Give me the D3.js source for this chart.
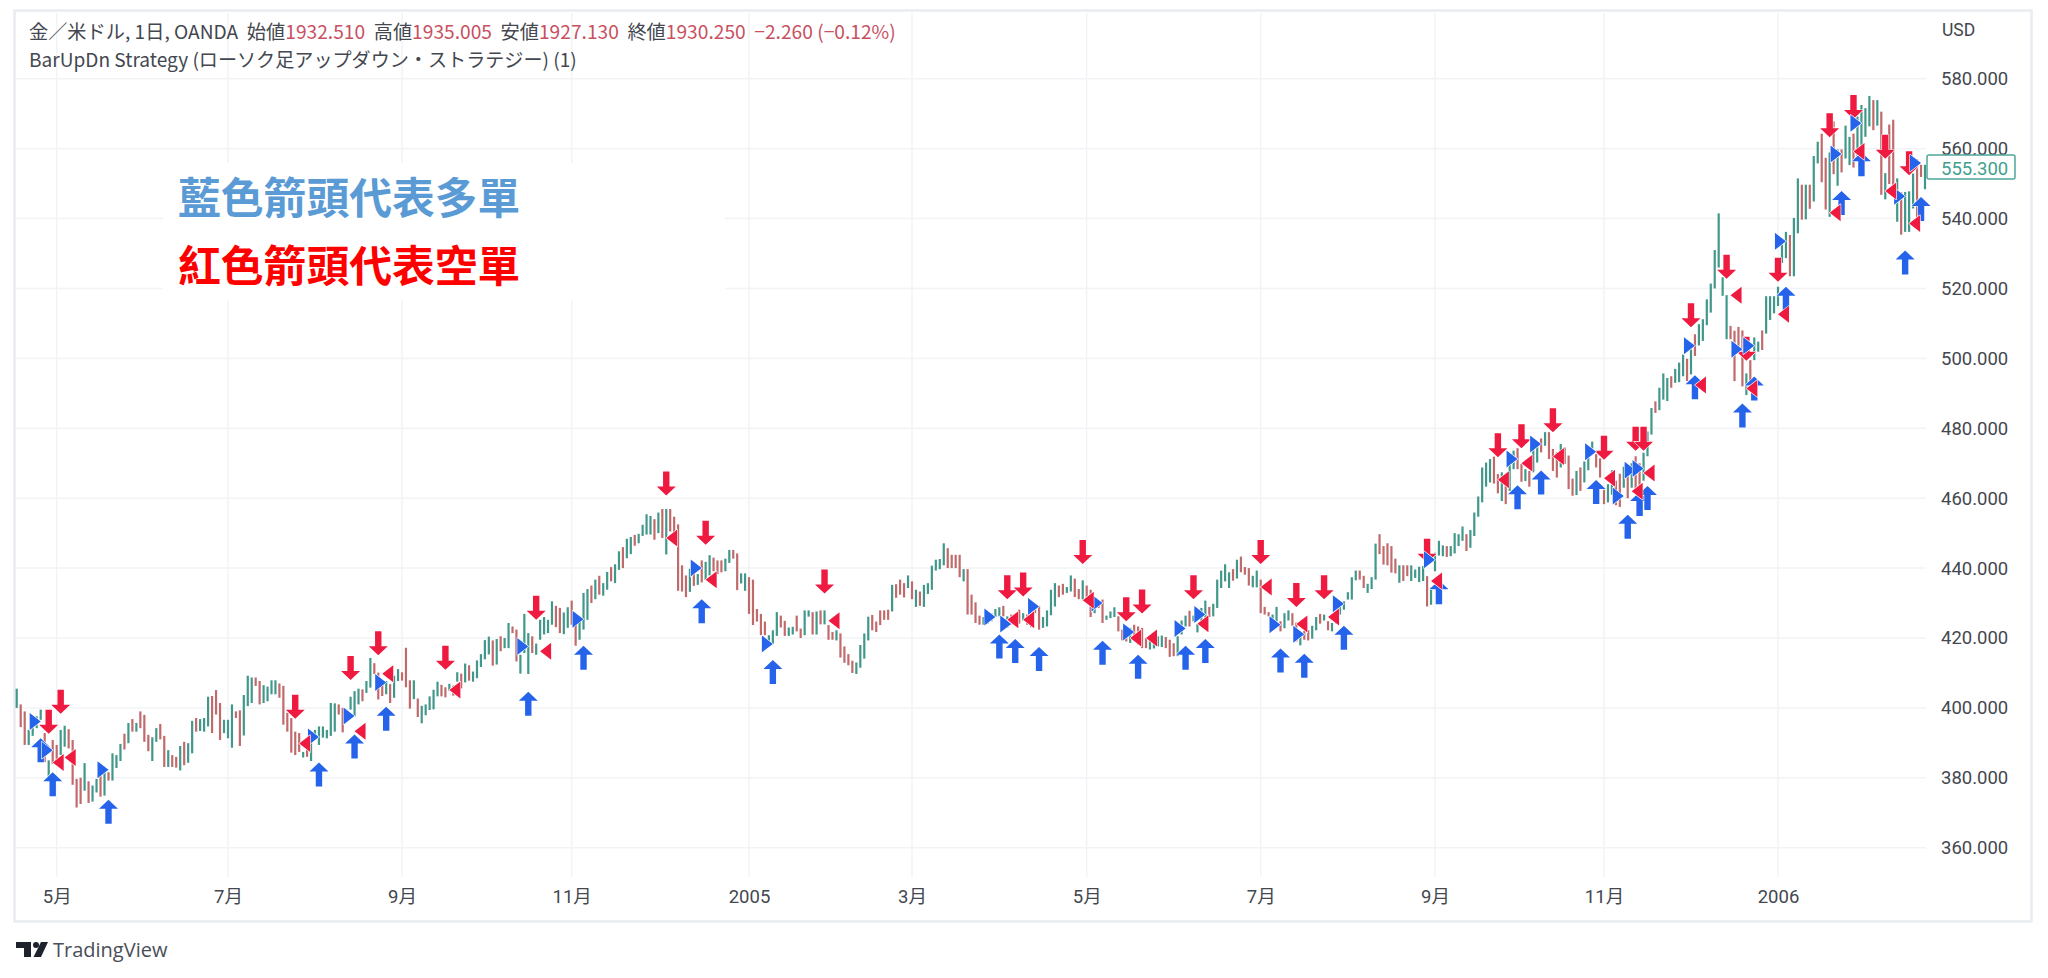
<!DOCTYPE html>
<html><head><meta charset="utf-8">
<style>html,body{margin:0;padding:0;background:#fff;overflow:hidden}svg{display:block}</style>
<script src="https://d3js.org/d3.v7.min.js"></script></head><body>
<svg id="c" width="2048" height="978"></svg>
<script>
// ---- series: one entry per daily bar, grouped by the month span between time-axis ticks ----
const highs = [
405.5,401,399,393.7,394.5,397.6,399.5,392.8,385,390.8,
389.4,393.7,394.9,393.9,390.8,379.7,380,384.2,379,377.8,379.7,380.7,381.6,381.6,387,386.5,389.7,392.6,395.7,396.8,395.7,399,398,392.3,391.6,394.2,395.4,392,387.9,386.5,386,389.1,390.3,389.9,396.3,397.1,396.8,397.1,403.2,403.4,405.1,401.4,396.6,
396.6,401,399,399.3,403.7,409.2,408.7,408.7,407.7,406.5,406.1,407.9,407.9,407,406.3,398.6,397.1,393.2,392.8,387.4,389.9,390.8,393.7,394.7,394.7,393.7,401.4,401.3,401,400,399.5,403.2,404.8,405.5,405.3,407.7,414.3,412.8,410.1,407.2,407.7,406.8,409.2,411.1,
410.2,417.2,407.9,407.9,402.7,400.6,401,403.3,405.2,407.5,406.6,405.9,406.9,406.4,410.2,409.8,412.7,412.2,410.4,413.6,415.4,419.4,420.4,419.3,419.7,420.5,420,424.3,423.3,422.4,415.2,426.9,421.4,420.5,418.4,425.2,426,425.2,430.5,429.2,428.6,427.3,428.8,
430.7,425.2,425.2,432.9,434,435,436.7,437.8,435.7,438.9,440.3,441.1,444.8,446,448.4,448.9,449.5,449.8,452.4,455.4,454.9,454,455.9,456.9,456.9,456.9,454.7,452.5,440.8,437.9,439.8,441.8,438.3,442.2,441.8,443.7,443,442.2,442.2,442.7,445.2,445.2,444.2,438.5,438.5,
437.4,436.7,428.3,426.9,424.7,420.8,422.2,427.4,426.4,424.9,423,423.2,426.4,422.7,427.9,427.9,427.4,427.6,427.9,427.9,423.7,421.7,422.2,421.3,417.6,415.4,413.5,413,418,421.3,426.1,426.6,424.7,427.9,427.9,428.1,435.2,435.4,436.7,435.7,437.9,
436.2,433.8,433.3,435.2,435.7,440.7,442.4,442.6,447.1,445.7,443.8,443.8,443.8,439.7,439.7,432.4,430.2,426.4,426,426.7,427.1,428.3,428.8,429.2,426.2,426.7,426.2,428.1,427.1,426.7,427.6,430,429.2,426,427.9,433.8,435.7,435,435.5,434.6,437.9,437,434,436.5,
435,433.8,431.4,430.5,431,426.4,427.6,428.8,426.2,422.4,422.9,422.9,423.8,423.3,422.9,420,419.5,420,420.5,420.7,420.3,419.5,418.5,420.5,425,426.4,427.8,426.4,424,428.6,430.7,428.9,429.8,436.7,439.3,441.1,438.8,439.7,442.4,443.3,440.3,440,437.8,439.3,
436.7,428.9,427.4,426.7,428.9,424.8,427.1,427.9,427.1,424.4,421,422,422.2,423.5,426,426.9,426.7,424.8,424.3,427.6,430.5,430.5,433.1,437.4,439.3,439.3,437.8,435.5,437.4,447,449.7,446.3,447.1,446.3,442.7,440.8,440.8,440.8,440.8,439.6,440.4,440.6,437.7,434.4,
444.4,447.8,446.5,446.3,446.3,450,449.7,451.9,449.7,450.9,455.9,460.5,468.8,470.2,471.2,471.9,466.9,467.4,465.5,471.2,473.6,474.3,469.8,468.3,467.8,474.1,476,477.1,478.9,478.9,474.1,473.1,475.5,474.5,472.2,465.6,467.8,468.8,470.5,472,476.2,472.6,471.4,
462.6,464,468,465,467,469,467,470,472,470,473,479.1,485.8,487.7,491.6,495.7,494.4,494.9,497,498.8,501.1,499.9,502.6,506.9,509.8,511.2,516.9,521.4,531,541.5,523.2,518.1,509.3,507.9,509,508,495.7,499.5,506,504.8,508,517.8,517.8,517.8,
520.5,533.4,536.2,535.3,540.2,551.5,549.7,549.7,549.7,557.9,562,564.3,557.4,558.9,567.8,559.8,559.8,566.6,563.4,564.3,569.2,572.5,571.6,575.1,573.9,573.9,570.6,553,566.9,568.3,551.5,547.6,547.6,547.8,552.9,557,555.4,555.4
];
const lows = [
400,394.5,389.4,389.4,392,394.2,396.6,384.5,380.2,384,
384.5,386.5,388.9,388.4,378,371.5,372.5,376.3,372.8,373.2,375.8,374.6,374.9,379.2,379.2,382.8,384.8,388.1,389.9,393.2,393.2,394.2,390.3,387.6,384.8,390.3,391,383.1,383.1,383.1,382.9,382.1,383.6,384.3,387,393.2,393.4,393.2,394.7,392.8,398.1,390.8,392.8,
391.3,388.6,397.1,389.1,392.1,400.5,401.4,406.3,401,401.4,401.9,403.9,403.9,402.9,395.2,393.2,387.2,386.5,387.4,385.8,386,384.8,390.8,389.4,391.5,391.3,392,393.2,398.1,393,396.1,399.5,397.6,401,401.9,404.3,405.8,409.7,402.4,403.4,403.9,401.4,402.9,407.7,
407.8,405.9,399.8,402.5,397.4,395.6,397.9,399.4,399.6,403.3,403.3,403,404.9,403.5,407.5,405.6,407.3,407.8,407.5,408.5,411.7,413.9,415.3,412.1,412.4,416.2,417.1,417.1,421.4,413.3,409.8,415.7,409.7,415.7,415.2,419.5,421,421.4,423.8,423.1,421.4,421.1,422.9,
423.8,417.8,419.5,422.4,425.2,430,431.1,432.4,432.1,433.8,436.2,435.7,439.5,440,442.8,444,446.4,447.1,449.2,449.6,449.6,448.1,450,448.6,443.9,450.5,449.1,433.5,433.3,431.7,433.2,434.9,435.2,435.9,436.6,437.9,439.1,438.3,438.8,439.1,441.5,442.7,433.7,435.6,433.5,
426.9,423.7,424.7,420.8,420.8,417.8,418.3,420.6,423,420.6,420.6,421,421.9,420,420.8,426.1,421,421,423.9,423.9,419.5,419.5,419.3,414.4,412.9,412.2,410,409.7,411.5,414.1,419.3,422.2,421.7,423.7,425.2,425.2,427.6,431.5,432.4,431.6,434.3,
431.1,428.9,429.2,428.9,432.6,433.8,439.3,439.7,440.8,440,440,440,437.4,436.2,426.7,426.7,424.3,423.8,423.8,424,424.8,426,426.2,426.2,422.9,423.8,424.3,424.1,425,423.8,423.1,427.1,422.4,422.9,423.3,426.5,429,431.7,432.4,432.9,433.3,431.7,431.1,431,
430,426,427.1,428.6,424.3,425.2,425.7,426,421.9,419.3,419,418.6,419.5,418.1,417.1,417.1,416.7,417,417.6,417.4,417.1,414.6,414.8,414.8,421,423.3,423.3,424.8,421.6,424.3,425.7,426,426.2,428.6,434.3,436.2,434.3,436.4,437,438.8,438.1,435,434.5,434.5,
427.1,426.7,426.2,424.3,424.8,421.9,422.8,425,423.5,419,417.9,419.5,419.3,419.8,422.2,424.1,425,422.2,421.9,424.1,426.7,428.1,431,431,436.5,436.7,434.3,432.9,434,436.7,444,441,440.8,438.7,438.5,435.8,436.3,437.7,436.3,437.2,436,436.3,429,429.5,
439.1,443.6,443.4,443.2,443.4,444.2,446.3,447.8,444.9,445.8,449.2,454.7,458.8,463.3,464.5,464.2,461.4,459.2,458.3,462.1,468.3,468.3,464.7,464.9,463.3,467.4,470.2,473.1,475,471.2,467.8,465.9,468.8,469.8,462.6,460.7,460.9,462.1,464.5,468,472.6,468.8,465.9,
458.3,458.8,461,458,457.5,463,460,463,462,460,465,472,478.2,484.4,485.2,488.2,487.8,491.6,493,493.2,494.9,493.5,495.4,500.7,503.7,505,509.5,513.1,520,526,517.9,505.5,505.5,493.5,503.3,492,489.5,491.4,499.5,501.9,502.4,507.1,511,512.9,
515,527.3,528.7,523.5,523.5,535.8,539.7,539.8,542.8,544.9,555.8,550.4,542.6,540.5,552.7,549.4,553.2,557.2,555.3,554.6,557.9,559.8,563.4,566.4,565.3,566.6,546.8,545.5,549.9,548,539.1,535.4,536.2,536.2,542.9,538,551.9,548.4
];
const barDirections = (
"GRRGGGGRGR"+
"RGGRRRRGRGGRGRGGGRGRGRRRGGRRGRRGRGGRGGGRRRG"+
"GGRRGGGRRGGGGRRRRRRGRGGGGGGGRRGGGGRGGRRRGRGG"+
"RRRGRGGGGGRRGRGRGRGGGGGRGRGGRRGGGRGGGGGRRGG"+
"RRGGGRGRGGRGGRGGRGGGGRGRGRRRRRGRGRGGRRRGGRRGG"+
"RRRRRGGGRRGGRRGGRGRGRRGRRRRGGGGRRRRRGRRRG"+
"RGRGGGGGGRRRRGRRRRGGGGGRGRRRGRRRRGGGGRRGGRRG"+
"RRGRRGGGRRRGRRRRGGGGRRRGGGRGGGGRGGGGGRGRRRGG"+
"RRRGGRGGRRGRRGGRGRGGGGGGGRRGGGRRRRRGRRGGGGRG".slice(0,44)+
"GGGRGGGGRGGGGGGRRGRGGRRGRGGRGRRRGRRRGRGGGRR"+
"RGGRRGRGRRGGGRGGGRGGGRGRGGGGGGGGRRRRGRGGRGGGR".slice(0,44)+
"GGGRGGRGRGGRRGRGRGGRGGGGRGRGRRGRGGGRRG"
).split("");
const timeTickLabels = ["5月","7月","9月","11月","2005","3月","5月","7月","9月","11月","2006"];
const timeTickBars   = [10,53,97,140,185,226,270,314,358,401,445];
const priceTicks = d3.range(360, 581, 20);
const lastPrice = 555.3;
const headerSymbol = "金／米ドル, 1日, OANDA";
const headerOhlc = [["始値","1932.510"],["高値","1935.005"],["安値","1927.130"],["終値","1930.250"]];
const headerChange = "−2.260 (−0.12%)";
const strategyName = "BarUpDn Strategy (ローソク足アップダウン・ストラテジー) (1)";
const noteLong = "藍色箭頭代表多單";
const noteShort = "紅色箭頭代表空單";
// ---- signals: [bar index, price] ----
const shortArrows = [[11,398.3],[8,392.6],[70,396.9],[84,408],[91,415.1],[108,410.9],[131,425.2],[164,460.8],[174,446.7],[204,432.7],[250,431.1],[254,431.9],[269,441.2],[280,424.8],[284,427],[297,431.1],[314,441.2],[323,428.9],[330,431.1],[356,441.5],[374,471.7],[380,474.3],[388,478.9],[401,471],[409,473.6],[411,473.6],[423,508.9],[432,522.8],[437,499.3],[445,521.9],[458,563.3],[464,568.5],[472,557.1],[478,552.4]];
const longArrows = [[6,391.3],[9,381.6],[23,373.7],[76,384.4],[85,392.4],[93,400.3],[129,404.6],[143,417.8],[173,431.1],[191,413.7],[248,421],[252,419.7],[258,417.4],[274,419.2],[283,415.2],[295,417.8],[300,419.7],[319,417],[325,415.5],[335,423.5],[359,436.5],[379,463.7],[385,467.9],[399,465.2],[407,455.3],[410,461.8],[412,463.5],[424,495.2],[436,487.1],[439,494.8],[447,520.5],[461,547.9],[466,559],[477,530.9],[481,546.2]];
const longEntries = [[6,396.1],[9,387.9],[23,382.3],[76,391.7],[85,397.7],[93,407.3],[129,417.6],[143,425.4],[173,440],[191,418.3],[247,426],[251,424],[258,429],[274,430],[282,421.7],[295,422.7],[300,426.7],[319,423.8],[325,421.1],[335,429.8],[358,442.4],[379,471.2],[385,475.5],[399,473.3],[406,460.6],[409,468],[411,468.5],[424,503.6],[436,502.6],[439,503.6],[447,533.5],[461,558.5],[466,567.3],[477,546.4],[481,555.9]];
const shortEntries = [[9,384.4],[12,385.8],[71,389.8],[85,393.3],[92,409.8],[109,405.1],[132,416.2],[164,448.6],[174,436.7],[205,424.9],[250,425.2],[254,425.2],[269,430.8],[281,420],[285,420],[298,424.1],[314,434.6],[323,424],[331,426],[357,436.3],[374,465.3],[380,470],[388,471.9],[401,465.7],[408,462],[411,467.2],[424,492.4],[433,518.1],[437,491.4],[445,512.6],[458,541.7],[464,559.2],[472,547.9],[478,538.6]];

// ---- scales ----
const xDomain = [0,...timeTickBars,highs.length-1];
const xRange  = [16.7,56.7,228,402,571.7,749,912,1086.7,1260.7,1435,1604,1778,1925];
const x = d3.scaleLinear().domain(xDomain).range(xRange);
const y = d3.scaleLinear().domain([360,580]).range([847.7,78.8]);
const svg = d3.select("#c");
const sans = "'Noto Sans CJK JP','Roboto',sans-serif";
const colG="#41988a", colR="#c06a6c", RED="#ee1a40", BLUE="#2563eb", GRID="#f2f3f6", FRAME="#e9ecf1", TXT="#43474f";

const plotR=1926, plotB=877, plotT=13;
// frame
svg.append("rect").attr("x",14.5).attr("y",10.5).attr("width",2017).attr("height",911)
  .attr("fill","#fff").attr("stroke",FRAME).attr("stroke-width",2.5);
// grid
svg.append("g").selectAll("line").data(timeTickBars).join("line")
  .attr("x1",d=>x(d)).attr("x2",d=>x(d)).attr("y1",plotT).attr("y2",plotB).attr("stroke",GRID).attr("stroke-width",1.5);
svg.append("g").selectAll("line").data(priceTicks).join("line")
  .attr("x1",16).attr("x2",plotR).attr("y1",d=>y(d)).attr("y2",d=>y(d)).attr("stroke",GRID).attr("stroke-width",1.5);
// axes
const yAxis = d3.axisRight(y).tickValues(priceTicks).tickFormat(d3.format(".3f")).tickSize(0).tickPadding(15);
const gy = svg.append("g").attr("transform",`translate(${plotR},0)`).call(yAxis);
gy.select(".domain").remove();
gy.selectAll("text").attr("fill",TXT).style("font","18.5px Roboto,sans-serif");
const xAxis = d3.axisBottom(x).tickValues(timeTickBars)
  .tickFormat((d,i)=>timeTickLabels[i]).tickSize(0).tickPadding(13);
const gx = svg.append("g").attr("transform",`translate(0,${plotB})`).call(xAxis);
gx.select(".domain").remove();
gx.selectAll("text").attr("fill",TXT).style("font","18.5px 'Roboto','Noto Sans CJK JP',sans-serif");
svg.append("text").attr("x",1942).attr("y",36).attr("fill",TXT).style("font","17.5px Roboto,sans-serif").text("USD");
// bars
svg.append("g").selectAll("line").data(highs).join("line")
  .attr("x1",(d,i)=>x(i)).attr("x2",(d,i)=>x(i))
  .attr("y1",d=>y(d)).attr("y2",(d,i)=>y(lows[i]))
  .attr("stroke",(d,i)=>barDirections[i]==="G"?colG:colR).attr("stroke-width",2.2);
// signals
const dn = d3.line()([[-3.2,-24],[3.2,-24],[3.2,-9],[9.5,-9],[0,0],[-9.5,-9],[-3.2,-9]])+"Z";
const up = d3.line()([[-3.2,24],[3.2,24],[3.2,9],[9.5,9],[0,0],[-9.5,9],[-3.2,9]])+"Z";
const tr = d3.line()([[-11,-8.5],[0,0],[-11,8.5]])+"Z";
const tl = d3.line()([[11,-8.5],[0,0],[11,8.5]])+"Z";
function marks(data,path,fill){
  svg.append("g").selectAll("path").data(data).join("path")
    .attr("d",path).attr("fill",fill)
    .attr("stroke","#fff").attr("stroke-width",1.2).attr("paint-order","stroke").attr("stroke-linejoin","round")
    .attr("transform",d=>`translate(${x(d[0])},${y(d[1])})`);
}
marks(longArrows,up,BLUE); marks(shortArrows,dn,RED);
marks(longEntries,tr,BLUE); marks(shortEntries,tl,RED);
// last price badge
svg.append("rect").attr("x",1927).attr("y",155).attr("width",88).attr("height",24).attr("rx",2)
  .attr("fill","#fff").attr("stroke","#4da899").attr("stroke-width",1.5);
svg.append("text").attr("x",1941).attr("y",y(lastPrice)+9.5).attr("fill","#3f9f8f")
  .style("font","18.5px Roboto,sans-serif").text(d3.format(".3f")(lastPrice));
// header
const h1 = svg.append("text").attr("x",29).attr("y",39).style("font",`19.2px ${sans}`).attr("fill",TXT).attr("xml:space","preserve");
h1.append("tspan").text(headerSymbol+"  ");
headerOhlc.forEach(([k,v])=>{h1.append("tspan").text(k);h1.append("tspan").attr("fill","#c8505f").text(v+"  ");});
h1.append("tspan").attr("fill","#c8505f").text(headerChange);
svg.append("text").attr("x",29).attr("y",67).style("font",`19.1px ${sans}`).attr("fill",TXT).text(strategyName);
// note box
svg.append("rect").attr("x",163).attr("y",163).attr("width",562).attr("height",137).attr("fill","#fff");
svg.append("text").attr("x",178).attr("y",214).attr("fill","#5b9bd5").style("font","700 42.8px 'Noto Sans CJK TC',sans-serif").text(noteLong);
svg.append("text").attr("x",178).attr("y",282).attr("fill","#ff0000").style("font","700 42.8px 'Noto Sans CJK TC',sans-serif").text(noteShort);
// logo
const logo = svg.append("g").attr("fill","#1e222d");
logo.append("path").attr("d","M16 942H31V957H24V948H16Z");
logo.append("circle").attr("cx",36).attr("cy",945).attr("r",3);
logo.append("path").attr("d","M41 942H48L41 957H33.5Z");
svg.append("text").attr("x",53).attr("y",957).attr("fill","#4a4e57").style("font","20px 'Open Sans',sans-serif").text("TradingView");
</script>
</body></html>
